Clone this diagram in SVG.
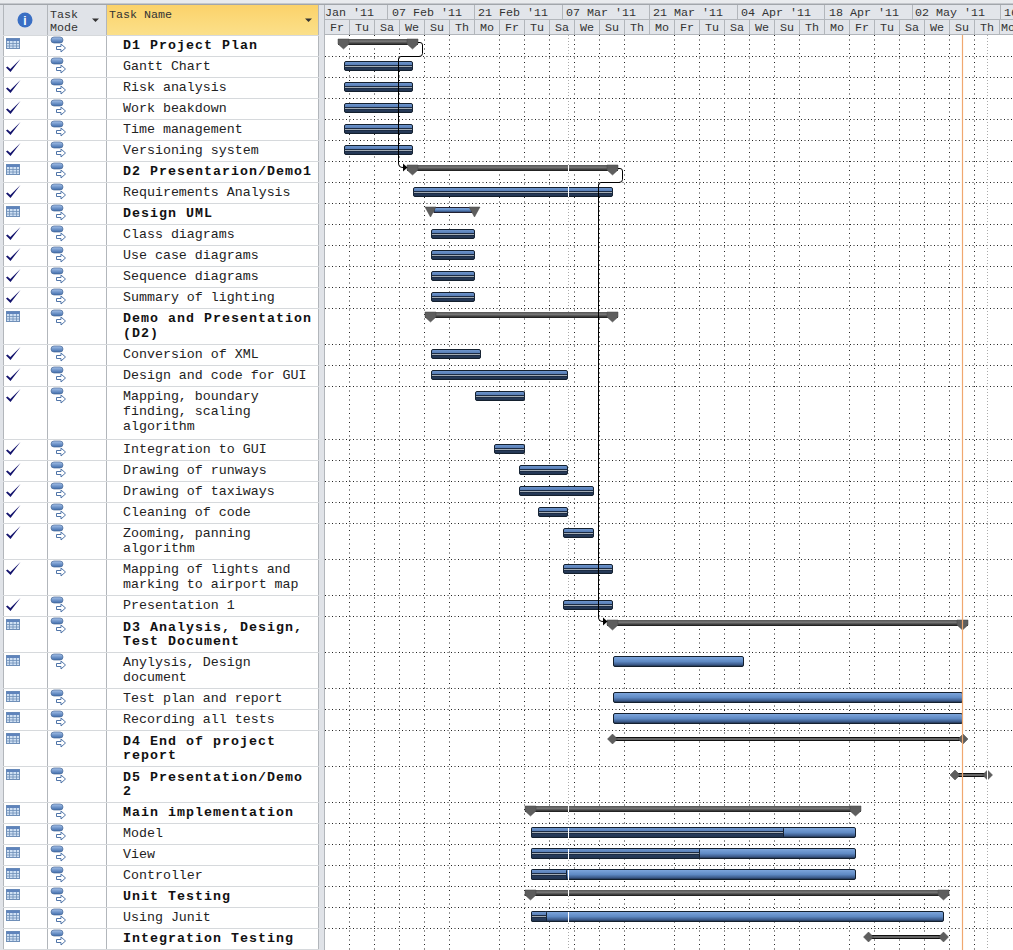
<svg xmlns="http://www.w3.org/2000/svg" xmlns:xlink="http://www.w3.org/1999/xlink" width="1013" height="950" viewBox="0 0 1013 950">
<style>
text{font-family:"Liberation Mono","DejaVu Sans Mono",monospace;fill:#222}
.n{font-size:13.3px}
.s{font-size:13.3px;font-weight:bold;letter-spacing:1.02px;fill:#111}
.h{font-size:11.7px;fill:#333}
.d{font-size:11.7px;fill:#333;text-anchor:middle}
.gh{stroke:#222;stroke-width:1;stroke-dasharray:1 2.500;fill:none}
.gv{stroke:#222;stroke-width:1;stroke-dasharray:1 3.500;fill:none}
.rl{stroke:#d6d9dc;stroke-width:1;fill:none}
.hl{stroke:#b2b6bb;stroke-width:1;fill:none}
.b{fill:url(#blue);stroke:#14202e;stroke-width:1}
.f{fill:url(#done);stroke:#14202e;stroke-width:1}
.p{fill:#a2abb4;stroke:#1c2c44;stroke-width:1}
.su{fill:url(#sum)}
.tri{fill:#5e5e5e;stroke:#444;stroke-width:.5}
.thin{fill:#666;stroke:#111;stroke-width:1}
.conn{fill:none;stroke:#000;stroke-width:1}
</style>
<defs>
<linearGradient id="blue" x1="0" y1="0" x2="0" y2="1"><stop offset="0" stop-color="#80a8de"/><stop offset=".5" stop-color="#5f8ac4"/><stop offset=".8" stop-color="#3d5c8c"/><stop offset="1" stop-color="#1c2b42"/></linearGradient>
<linearGradient id="done" x1="0" y1="0" x2="0" y2="1"><stop offset="0" stop-color="#7098d0"/><stop offset=".35" stop-color="#5a80b8"/><stop offset=".45" stop-color="#2c4468"/><stop offset="1" stop-color="#22334e"/></linearGradient>
<linearGradient id="sum" x1="0" y1="0" x2="0" y2="1"><stop offset="0" stop-color="#555"/><stop offset=".4" stop-color="#777"/><stop offset="1" stop-color="#151515"/></linearGradient>
<linearGradient id="gold" x1="0" y1="0" x2="0" y2="1"><stop offset="0" stop-color="#fbd26a"/><stop offset="1" stop-color="#fbe08a"/></linearGradient>
<linearGradient id="pill" x1="0" y1="0" x2="0" y2="1"><stop offset="0" stop-color="#a6c2ea"/><stop offset="1" stop-color="#3f6cab"/></linearGradient>
<g id="mode"><rect x="51" y="2" width="12" height="6" rx="3" fill="url(#pill)" stroke="#4a6a98" stroke-width=".7"/><path d="M56.500 11.500h4.500v-2.500l4.500 4-4.500 4v-2.500h-4.500z" fill="#fff" stroke="#4f74a8" stroke-width="1"/></g>
<g id="chk"><path d="M6 11.500l1.500-1 2.800 2.400L20.500 3 10.500 16z" fill="#14146e"/></g>
<g id="cal"><rect x="6.500" y="3.500" width="13" height="10" fill="#cfe0f4" stroke="#6f8fb8"/><rect x="6.500" y="3.500" width="13" height="2.500" fill="#5f84bc"/><path d="M9.500 6v7.500M13 6v7.500M16.500 6v7.500M7 8.500h12M7 11h12" stroke="#6f8fb8" stroke-width=".8"/></g>
<path id="dn" class="tri" d="M0 0h11v5l-5.500 5-5.500-5z"/>
<path id="dv" class="tri" d="M0 0h11l-5.500 10z"/>
<path id="dm" class="tri" d="M0-5l5 5-5 5-5-5z"/>
</defs>
<rect width="1013" height="950" fill="#fff"/>

<g id="table-chrome">
<rect x="0" y="0" width="1013" height="4" fill="#e9ebee"/><rect x="0" y="3.500" width="1013" height="1.500" fill="#a2a6ab"/>
<rect x="0" y="5" width="325" height="30" fill="#e0e3e8"/>
<rect x="107" y="5" width="212" height="30" fill="url(#gold)"/>
<rect x="0" y="35" width="3" height="915" fill="#e0e3e8"/>
<rect x="319" y="5" width="6" height="945" fill="#e0e3e8"/>
<path class="hl" d="M3.500 5V950M47.500 5V950M106.500 5V950M318.500 5V950M324.500 5V950"/>
<path class="rl" d="M3 35.500H319M3 56.500H319M3 77.500H319M3 98.500H319M3 119.500H319M3 140.500H319M3 161.500H319M3 182.500H319M3 203.500H319M3 224.500H319M3 245.500H319M3 266.500H319M3 287.500H319M3 308.500H319M3 344.500H319M3 365.500H319M3 386.500H319M3 439.500H319M3 460.500H319M3 481.500H319M3 502.500H319M3 523.500H319M3 559.500H319M3 595.500H319M3 616.500H319M3 652.500H319M3 688.500H319M3 709.500H319M3 730.500H319M3 766.500H319M3 802.500H319M3 823.500H319M3 844.500H319M3 865.500H319M3 886.500H319M3 907.500H319M3 928.500H319M3 949.500H319"/>
<circle cx="25" cy="20" r="7.500" fill="#3a6fc4"/><text x="25" y="24.500" text-anchor="middle" style="font-family:'Liberation Sans',sans-serif;font-size:12px;font-weight:bold;fill:#fff">i</text>
<text class="h" x="50" y="18">Task</text><text class="h" x="50" y="31">Mode</text>
<path d="M92 18.500h7l-3.500 3.500z" fill="#333"/>
<text class="h" x="109" y="18">Task Name</text>
<path d="M305 18.500h7l-3.500 3.500z" fill="#333"/>
</g>

<g id="timescale">
<rect x="325" y="5" width="688" height="30" fill="#e2e5ea"/>
<path class="hl" d="M325 19.500H1013M325 34.500H1013"/>
<path class="hl" d="M387.500 5V19M474.500 5V19M562.500 5V19M649.500 5V19M737.500 5V19M824.500 5V19M912.500 5V19M1000.500 5V19M349.500 20V35M374.500 20V35M399.500 20V35M424.500 20V35M449.500 20V35M474.500 20V35M499.500 20V35M524.500 20V35M549.500 20V35M574.500 20V35M599.500 20V35M624.500 20V35M649.500 20V35M674.500 20V35M699.500 20V35M724.500 20V35M749.500 20V35M774.500 20V35M799.500 20V35M824.500 20V35M849.500 20V35M874.500 20V35M899.500 20V35M924.500 20V35M949.500 20V35M974.500 20V35M999.500 20V35"/>
<text class="h" x="325" y="16">Jan '11</text><text class="h" x="392" y="16">07 Feb '11</text><text class="h" x="478" y="16">21 Feb '11</text><text class="h" x="566" y="16">07 Mar '11</text><text class="h" x="653" y="16">21 Mar '11</text><text class="h" x="741" y="16">04 Apr '11</text><text class="h" x="829" y="16">18 Apr '11</text><text class="h" x="915" y="16">02 May '11</text><text class="h" x="1004" y="16">16</text>
<text class="d" x="337" y="31">Fr</text><text class="d" x="362" y="31">Tu</text><text class="d" x="387" y="31">Sa</text><text class="d" x="412" y="31">We</text><text class="d" x="437" y="31">Su</text><text class="d" x="462" y="31">Th</text><text class="d" x="487" y="31">Mo</text><text class="d" x="512" y="31">Fr</text><text class="d" x="537" y="31">Tu</text><text class="d" x="562" y="31">Sa</text><text class="d" x="587" y="31">We</text><text class="d" x="612" y="31">Su</text><text class="d" x="637" y="31">Th</text><text class="d" x="662" y="31">Mo</text><text class="d" x="687" y="31">Fr</text><text class="d" x="712" y="31">Tu</text><text class="d" x="737" y="31">Sa</text><text class="d" x="762" y="31">We</text><text class="d" x="787" y="31">Su</text><text class="d" x="812" y="31">Th</text><text class="d" x="837" y="31">Mo</text><text class="d" x="862" y="31">Fr</text><text class="d" x="887" y="31">Tu</text><text class="d" x="912" y="31">Sa</text><text class="d" x="937" y="31">We</text><text class="d" x="962" y="31">Su</text><text class="d" x="987" y="31">Th</text><text class="d" x="1008" y="31">Mo</text>
</g>

<g id="grid">
<path class="gh" d="M325 56.500H1013M325 77.500H1013M325 98.500H1013M325 119.500H1013M325 140.500H1013M325 161.500H1013M325 182.500H1013M325 203.500H1013M325 224.500H1013M325 245.500H1013M325 266.500H1013M325 287.500H1013M325 308.500H1013M325 344.500H1013M325 365.500H1013M325 386.500H1013M325 439.500H1013M325 460.500H1013M325 481.500H1013M325 502.500H1013M325 523.500H1013M325 559.500H1013M325 595.500H1013M325 616.500H1013M325 652.500H1013M325 688.500H1013M325 709.500H1013M325 730.500H1013M325 766.500H1013M325 802.500H1013M325 823.500H1013M325 844.500H1013M325 865.500H1013M325 886.500H1013M325 907.500H1013M325 928.500H1013"/>
<path class="gv" d="M349.500 35V950M374.500 35V950M399.500 35V950M424.500 35V950M449.500 35V950M499.500 35V950M524.500 35V950M549.500 35V950M574.500 35V950M599.500 35V950M624.500 35V950M674.500 35V950M699.500 35V950M724.500 35V950M749.500 35V950M774.500 35V950M799.500 35V950M849.500 35V950M874.500 35V950M899.500 35V950M924.500 35V950M949.500 35V950M974.500 35V950"/>
<path d="M568.500 35V950M987.500 35V950" fill="none" stroke="#aaa" stroke-dasharray="1 2"/>
</g>

<g id="tasks">
<g id="t1"><use href="#cal" y="35"/><use href="#mode" y="35"/><text class="s" x="123" y="49">D1 Project Plan</text><rect class="su" x="338" y="39" width="80" height="6"/><use href="#dn" x="338" y="39"/><use href="#dn" x="407" y="39"/></g>
<g id="t2"><use href="#chk" y="56"/><use href="#mode" y="56"/><text class="n" x="123" y="70">Gantt Chart</text><rect class="f" x="344.500" y="61.500" width="68" height="9" rx="1.500"/><rect class="p" x="345" y="65.500" width="67" height="2"/></g>
<g id="t3"><use href="#chk" y="77"/><use href="#mode" y="77"/><text class="n" x="123" y="91">Risk analysis</text><rect class="f" x="344.500" y="82.500" width="68" height="9" rx="1.500"/><rect class="p" x="345" y="86.500" width="67" height="2"/></g>
<g id="t4"><use href="#chk" y="98"/><use href="#mode" y="98"/><text class="n" x="123" y="112">Work beakdown</text><rect class="f" x="344.500" y="103.500" width="68" height="9" rx="1.500"/><rect class="p" x="345" y="107.500" width="67" height="2"/></g>
<g id="t5"><use href="#chk" y="119"/><use href="#mode" y="119"/><text class="n" x="123" y="133">Time management</text><rect class="f" x="344.500" y="124.500" width="68" height="9" rx="1.500"/><rect class="p" x="345" y="128.500" width="67" height="2"/></g>
<g id="t6"><use href="#chk" y="140"/><use href="#mode" y="140"/><text class="n" x="123" y="154">Versioning system</text><rect class="f" x="344.500" y="145.500" width="68" height="9" rx="1.500"/><rect class="p" x="345" y="149.500" width="67" height="2"/></g>
<g id="t7"><use href="#cal" y="161"/><use href="#mode" y="161"/><text class="s" x="123" y="175">D2 Presentarion/Demo1</text><rect class="su" x="407" y="165" width="211" height="6"/><use href="#dn" x="407" y="165"/><use href="#dn" x="607" y="165"/></g>
<g id="t8"><use href="#chk" y="182"/><use href="#mode" y="182"/><text class="n" x="123" y="196">Requirements Analysis</text><rect class="f" x="413.500" y="187.500" width="199" height="9" rx="1.500"/><rect class="p" x="414" y="191.500" width="198" height="2"/></g>
<g id="t9"><use href="#cal" y="203"/><use href="#mode" y="203"/><text class="s" x="123" y="217">Design UML</text><rect x="434" y="207.500" width="38" height="5" fill="url(#blue)" stroke="#223"/><use href="#dv" x="425" y="207"/><use href="#dv" x="469" y="207"/></g>
<g id="t10"><use href="#chk" y="224"/><use href="#mode" y="224"/><text class="n" x="123" y="238">Class diagrams</text><rect class="f" x="431.500" y="229.500" width="43" height="9" rx="1.500"/><rect class="p" x="432" y="233.500" width="42" height="2"/></g>
<g id="t11"><use href="#chk" y="245"/><use href="#mode" y="245"/><text class="n" x="123" y="259">Use case diagrams</text><rect class="f" x="431.500" y="250.500" width="43" height="9" rx="1.500"/><rect class="p" x="432" y="254.500" width="42" height="2"/></g>
<g id="t12"><use href="#chk" y="266"/><use href="#mode" y="266"/><text class="n" x="123" y="280">Sequence diagrams</text><rect class="f" x="431.500" y="271.500" width="43" height="9" rx="1.500"/><rect class="p" x="432" y="275.500" width="42" height="2"/></g>
<g id="t13"><use href="#chk" y="287"/><use href="#mode" y="287"/><text class="n" x="123" y="301">Summary of lighting</text><rect class="f" x="431.500" y="292.500" width="43" height="9" rx="1.500"/><rect class="p" x="432" y="296.500" width="42" height="2"/></g>
<g id="t14"><use href="#cal" y="308"/><use href="#mode" y="308"/><text class="s" x="123" y="322">Demo and Presentation</text><text class="s" x="123" y="337">(D2)</text><rect class="su" x="425" y="312" width="193" height="6"/><use href="#dn" x="425" y="312"/><use href="#dn" x="607" y="312"/></g>
<g id="t15"><use href="#chk" y="344"/><use href="#mode" y="344"/><text class="n" x="123" y="358">Conversion of XML</text><rect class="f" x="431.500" y="349.500" width="49" height="9" rx="1.500"/><rect class="p" x="432" y="353.500" width="48" height="2"/></g>
<g id="t16"><use href="#chk" y="365"/><use href="#mode" y="365"/><text class="n" x="123" y="379">Design and code for GUI</text><rect class="f" x="431.500" y="370.500" width="136" height="9" rx="1.500"/><rect class="p" x="432" y="374.500" width="135" height="2"/></g>
<g id="t17"><use href="#chk" y="386"/><use href="#mode" y="386"/><text class="n" x="123" y="400">Mapping, boundary</text><text class="n" x="123" y="415">finding, scaling</text><text class="n" x="123" y="430">algorithm</text><rect class="f" x="475.500" y="391.500" width="49" height="9" rx="1.500"/><rect class="p" x="476" y="395.500" width="48" height="2"/></g>
<g id="t18"><use href="#chk" y="439"/><use href="#mode" y="439"/><text class="n" x="123" y="453">Integration to GUI</text><rect class="f" x="494.500" y="444.500" width="30" height="9" rx="1.500"/><rect class="p" x="495" y="448.500" width="29" height="2"/></g>
<g id="t19"><use href="#chk" y="460"/><use href="#mode" y="460"/><text class="n" x="123" y="474">Drawing of runways</text><rect class="f" x="519.500" y="465.500" width="48" height="9" rx="1.500"/><rect class="p" x="520" y="469.500" width="47" height="2"/></g>
<g id="t20"><use href="#chk" y="481"/><use href="#mode" y="481"/><text class="n" x="123" y="495">Drawing of taxiways</text><rect class="f" x="519.500" y="486.500" width="74" height="9" rx="1.500"/><rect class="p" x="520" y="490.500" width="73" height="2"/></g>
<g id="t21"><use href="#chk" y="502"/><use href="#mode" y="502"/><text class="n" x="123" y="516">Cleaning of code</text><rect class="f" x="538.500" y="507.500" width="29" height="9" rx="1.500"/><rect class="p" x="539" y="511.500" width="28" height="2"/></g>
<g id="t22"><use href="#chk" y="523"/><use href="#mode" y="523"/><text class="n" x="123" y="537">Zooming, panning</text><text class="n" x="123" y="552">algorithm</text><rect class="f" x="563.500" y="528.500" width="30" height="9" rx="1.500"/><rect class="p" x="564" y="532.500" width="29" height="2"/></g>
<g id="t23"><use href="#chk" y="559"/><use href="#mode" y="559"/><text class="n" x="123" y="573">Mapping of lights and</text><text class="n" x="123" y="588">marking to airport map</text><rect class="f" x="563.500" y="564.500" width="49" height="9" rx="1.500"/><rect class="p" x="564" y="568.500" width="48" height="2"/></g>
<g id="t24"><use href="#chk" y="595"/><use href="#mode" y="595"/><text class="n" x="123" y="609">Presentation 1</text><rect class="f" x="563.500" y="600.500" width="49" height="9" rx="1.500"/><rect class="p" x="564" y="604.500" width="48" height="2"/></g>
<g id="t25"><use href="#cal" y="616"/><use href="#mode" y="616"/><text class="s" x="123" y="631">D3 Analysis, Design,</text><text class="s" x="123" y="645">Test Document</text><rect class="su" x="607" y="620" width="361" height="6"/><use href="#dn" x="607" y="620"/><use href="#dn" x="957" y="620"/></g>
<g id="t26"><use href="#cal" y="652"/><use href="#mode" y="652"/><text class="n" x="123" y="666">Anylysis, Design</text><text class="n" x="123" y="681">document</text><rect class="b" x="613.500" y="656.500" width="130" height="10" rx="1.500"/></g>
<g id="t27"><use href="#cal" y="688"/><use href="#mode" y="688"/><text class="n" x="123" y="702">Test plan and report</text><rect class="b" x="613.500" y="692.500" width="349" height="10" rx="1.500"/></g>
<g id="t28"><use href="#cal" y="709"/><use href="#mode" y="709"/><text class="n" x="123" y="723">Recording all tests</text><rect class="b" x="613.500" y="713.500" width="349" height="10" rx="1.500"/></g>
<g id="t29"><use href="#cal" y="730"/><use href="#mode" y="730"/><text class="s" x="123" y="745">D4 End of project</text><text class="s" x="123" y="759">report</text><rect class="thin" x="612" y="737.500" width="351" height="3"/><use href="#dm" x="612.500" y="739"/><use href="#dm" x="963" y="739"/></g>
<g id="t30"><use href="#cal" y="766"/><use href="#mode" y="766"/><text class="s" x="123" y="781">D5 Presentation/Demo</text><text class="s" x="123" y="795">2</text><rect class="thin" x="955" y="773.500" width="32" height="3"/><use href="#dm" x="955" y="775"/><use href="#dm" x="987.500" y="775"/></g>
<g id="t31"><use href="#cal" y="802"/><use href="#mode" y="802"/><text class="s" x="123" y="816">Main implementation</text><rect class="su" x="525" y="806" width="336" height="6"/><use href="#dn" x="525" y="806"/><use href="#dn" x="850" y="806"/></g>
<g id="t32"><use href="#cal" y="823"/><use href="#mode" y="823"/><text class="n" x="123" y="837">Model</text><rect class="b" x="531.500" y="827.500" width="324" height="10" rx="1.500"/><rect class="f" x="531.500" y="827.500" width="252" height="10" rx="1"/><rect class="p" x="532" y="831.500" width="251" height="2"/></g>
<g id="t33"><use href="#cal" y="844"/><use href="#mode" y="844"/><text class="n" x="123" y="858">View</text><rect class="b" x="531.500" y="848.500" width="324" height="10" rx="1.500"/><rect class="f" x="531.500" y="848.500" width="168" height="10" rx="1"/><rect class="p" x="532" y="852.500" width="167" height="2"/></g>
<g id="t34"><use href="#cal" y="865"/><use href="#mode" y="865"/><text class="n" x="123" y="879">Controller</text><rect class="b" x="531.500" y="869.500" width="324" height="10" rx="1.500"/><rect class="f" x="531.500" y="869.500" width="35" height="10" rx="1"/><rect class="p" x="532" y="873.500" width="34" height="2"/></g>
<g id="t35"><use href="#cal" y="886"/><use href="#mode" y="886"/><text class="s" x="123" y="900">Unit Testing</text><rect class="su" x="525" y="890" width="424" height="6"/><use href="#dn" x="525" y="890"/><use href="#dn" x="938" y="890"/></g>
<g id="t36"><use href="#cal" y="907"/><use href="#mode" y="907"/><text class="n" x="123" y="921">Using Junit</text><rect class="b" x="531.500" y="911.500" width="412" height="10" rx="1.500"/><rect class="f" x="531.500" y="911.500" width="15" height="10" rx="1"/><rect class="p" x="532" y="915.500" width="14" height="2"/></g>
<g id="t37"><use href="#cal" y="928"/><use href="#mode" y="928"/><text class="s" x="123" y="942">Integration Testing</text><rect class="thin" x="868" y="935.500" width="76" height="3"/><use href="#dm" x="868.500" y="937"/><use href="#dm" x="943.500" y="937"/></g>
</g>

<g id="markers">
<path d="M568.500 165V171M568.500 187V197M568.500 370V380M568.500 806V812M568.500 828V838M568.500 849V859M568.500 870V880M568.500 890V896M568.500 912V922M987.500 770V780" stroke="#fff" stroke-width="1" fill="none"/>
<path d="M962.500 35V950" stroke="#f0a870" stroke-width="1.200" fill="none"/>
</g>

<g id="connectors">
<path class="conn" d="M418 42.500H420Q422.500 42.500 422.500 45V53.500Q422.500 56.500 419 56.500H401Q398.500 56.500 398.500 59V163Q398.500 167.500 403 167.500"/>
<path d="M403 163.500l4.500 4-4.500 4z" fill="#000"/>
<path class="conn" d="M618 168.500H620Q622.500 168.500 622.500 171V179.500Q622.500 182.500 619 182.500H601Q598.500 182.500 598.500 185V617Q598.500 621.500 603 621.500"/>
<path d="M603 617.500l4.500 4-4.500 4z" fill="#000"/>
</g>
</svg>
